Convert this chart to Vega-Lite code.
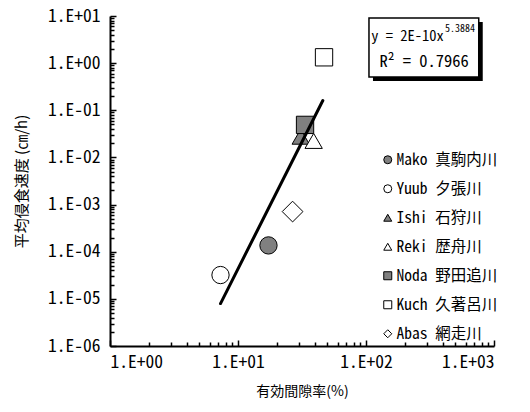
{
  "$schema": "https://vega.github.io/schema/vega-lite/v6.json",
  "width": 384,
  "height": 330,
  "autosize": "none",
  "padding": {"left": 110, "top": 16, "right": 36, "bottom": 66},
  "background": "white",
  "config": {
    "view": {"stroke": null},
    "font": "Noto Sans Mono CJK JP",
    "axis": {
      "grid": false,
      "domainColor": "black",
      "domainWidth": 2,
      "tickColor": "black",
      "tickWidth": 1.5,
      "labelColor": "black",
      "labelFont": "Noto Sans Mono CJK JP",
      "labelFontSize": 17.5,
      "labelOverlap": false,
      "titleFont": "Noto Sans CJK JP",
      "titleFontSize": 14,
      "titleFontWeight": "normal",
      "titleColor": "black"
    }
  },
  "datasets": {
    "rivers": [
      {"name": "Mako 真駒内川", "porosity": 17.3, "rate": 0.000136},
      {"name": "Yuub 夕張川", "porosity": 7.3, "rate": 0.000032},
      {"name": "Ishi 石狩川", "porosity": 30.9, "rate": 0.0275},
      {"name": "Reki 歴舟川", "porosity": 39.0, "rate": 0.0224},
      {"name": "Noda 野田追川", "porosity": 33.4, "rate": 0.049},
      {"name": "Kuch 久著呂川", "porosity": 47.0, "rate": 1.33},
      {"name": "Abas 網走川", "porosity": 26.7, "rate": 0.00071}
    ],
    "trend": [
      {"porosity": 7.3, "rate": 0.00000795},
      {"porosity": 46.0, "rate": 0.161}
    ]
  },
  "layer": [
    {
      "data": {"name": "rivers"},
      "mark": {"type": "point", "filled": true, "stroke": "black", "strokeWidth": 1, "opacity": 1},
      "encoding": {
        "x": {
          "field": "porosity",
          "type": "quantitative",
          "scale": {"type": "log", "domain": [1, 1000], "nice": false},
          "axis": {
            "title": "有効間隙率(%)",
            "titlePadding": 12,
            "tickCount": 10,
            "tickSize": {"condition": {"test": "abs(log(datum.value)/LN10 - round(log(datum.value)/LN10)) < 1e-6", "value": -6}, "value": -4},
            "labelPadding": 13,
            "labelExpr": "abs(log(datum.value)/LN10 - round(log(datum.value)/LN10)) > 1e-6 ? '' : '1.E' + (round(log(datum.value)/LN10) < 0 ? '-' : '+') + pad(toString(abs(round(log(datum.value)/LN10))), 2, '0', 'left')"
          }
        },
        "y": {
          "field": "rate",
          "type": "quantitative",
          "scale": {"type": "log", "domain": [0.000001, 10], "nice": false},
          "axis": {
            "title": "平均侵食速度 (㎝/h)",
            "titleFontSize": 15,
            "titlePadding": 18,
            "tickCount": 20,
            "tickSize": {"condition": {"test": "abs(log(datum.value)/LN10 - round(log(datum.value)/LN10)) < 1e-6", "value": -6}, "value": -4},
            "labelPadding": 16,
            "labelExpr": "abs(log(datum.value)/LN10 - round(log(datum.value)/LN10)) > 1e-6 ? '' : '1.E' + (round(log(datum.value)/LN10) < 0 ? '-' : '+') + pad(toString(abs(round(log(datum.value)/LN10))), 2, '0', 'left')"
          }
        },
        "fill": {
          "field": "name",
          "type": "nominal",
          "sort": null,
          "scale": {
            "domain": ["Mako 真駒内川", "Yuub 夕張川", "Ishi 石狩川", "Reki 歴舟川", "Noda 野田追川", "Kuch 久著呂川", "Abas 網走川"],
            "range": ["#808080", "white", "#808080", "white", "#808080", "white", "white"]
          },
          "legend": {
            "title": null,
            "orient": "none",
            "legendX": 270,
            "legendY": 136,
            "padding": 0,
            "rowPadding": 12,
            "symbolSize": 64,
            "symbolStrokeColor": "black",
            "symbolStrokeWidth": 1,
            "symbolOpacity": 1,
            "labelFont": "Noto Sans Mono CJK JP",
            "labelFontSize": 15.5,
            "labelColor": "black",
            "labelOffset": 1,
            "labelLimit": 200
          }
        },
        "shape": {
          "field": "name",
          "type": "nominal",
          "sort": null,
          "scale": {
            "domain": ["Mako 真駒内川", "Yuub 夕張川", "Ishi 石狩川", "Reki 歴舟川", "Noda 野田追川", "Kuch 久著呂川", "Abas 網走川"],
            "range": ["circle", "circle", "triangle-up", "triangle-up", "square", "square", "diamond"]
          }
        },
        "size": {
          "condition": {"test": "datum.name === 'Abas 網走川'", "value": 430},
          "value": 300
        }
      }
    },
    {
      "data": {"name": "trend"},
      "mark": {"type": "line", "color": "black", "strokeWidth": 3, "strokeCap": "round"},
      "encoding": {
        "x": {"field": "porosity", "type": "quantitative"},
        "y": {"field": "rate", "type": "quantitative"}
      }
    },
    {
      "data": {"values": [{}]},
      "mark": {"type": "rect", "fill": "black", "xOffset": 4, "x2Offset": 4, "yOffset": 4, "y2Offset": 4},
      "encoding": {
        "x": {"datum": 105.5, "type": "quantitative"},
        "x2": {"datum": 760},
        "y": {"datum": 9.07, "type": "quantitative"},
        "y2": {"datum": 0.51}
      }
    },
    {
      "data": {"values": [{}]},
      "mark": {"type": "rect", "fill": "white", "stroke": "black", "strokeWidth": 1.5},
      "encoding": {
        "x": {"datum": 105.5, "type": "quantitative"},
        "x2": {"datum": 760},
        "y": {"datum": 9.07, "type": "quantitative"},
        "y2": {"datum": 0.51}
      }
    },
    {
      "data": {"values": [{"line": "y = 2E-10x"}]},
      "mark": {"type": "text", "align": "right", "baseline": "middle", "fontSize": 14.5, "font": "Noto Sans Mono CJK JP", "color": "black"},
      "encoding": {
        "x": {"datum": 405, "type": "quantitative"},
        "y": {"datum": 3.6, "type": "quantitative"},
        "text": {"field": "line"}
      }
    },
    {
      "data": {"values": [{"line": "5.3884"}]},
      "mark": {"type": "text", "align": "left", "baseline": "middle", "fontSize": 10, "font": "Noto Sans Mono CJK JP", "color": "black"},
      "encoding": {
        "x": {"datum": 414, "type": "quantitative"},
        "y": {"datum": 5.3, "type": "quantitative"},
        "text": {"field": "line"}
      }
    },
    {
      "data": {"values": [{"line": "R² = 0.7966"}]},
      "mark": {"type": "text", "align": "center", "baseline": "middle", "fontSize": 16.5, "font": "Noto Sans Mono CJK JP", "color": "black"},
      "encoding": {
        "x": {"datum": 285, "type": "quantitative"},
        "y": {"datum": 1.06, "type": "quantitative"},
        "text": {"field": "line"}
      }
    }
  ]
}
